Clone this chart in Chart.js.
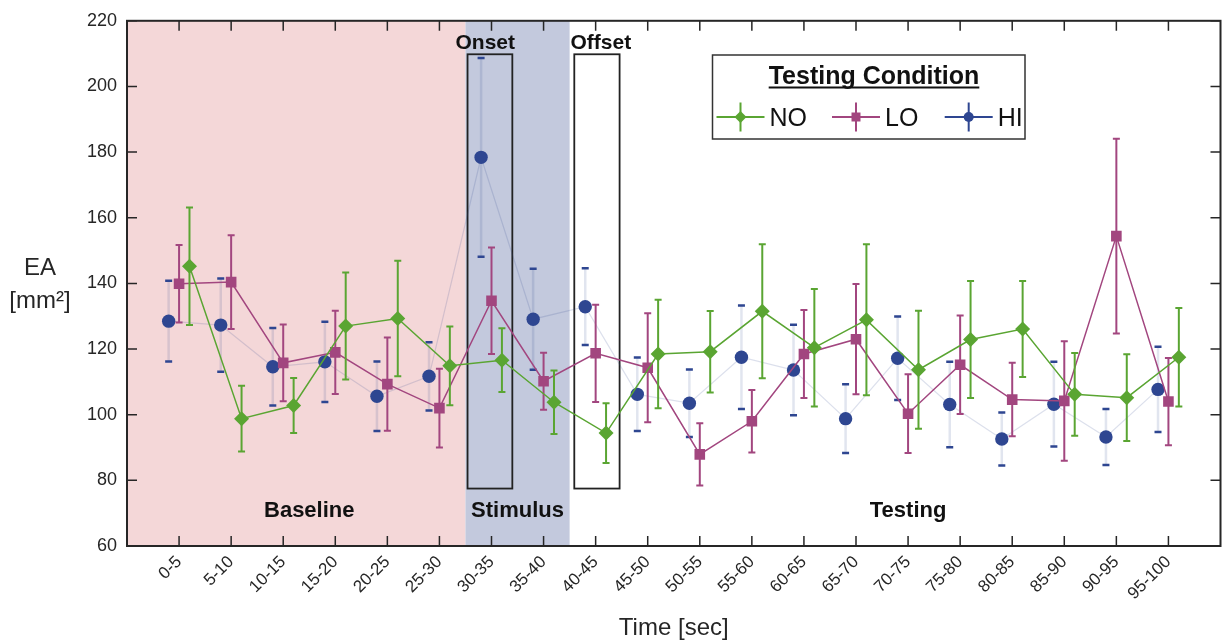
<!DOCTYPE html>
<html>
<head>
<meta charset="utf-8">
<script src="https://cdn.jsdelivr.net/npm/chart.js@4.4.1/dist/chart.umd.min.js"></script>
<style>
  html, body { margin: 0; padding: 0; background: #fff; }
  #chart-container { width: 1228px; height: 641px; }
</style>
</head>
<body>
<div id="chart-container"><canvas id="my-chart"></canvas></div>
<script>
// x categories (5 sec bins)
var timeBins = ['0-5', '5-10', '10-15', '15-20', '20-25', '25-30', '30-35', '35-40', '40-45', '45-50',
                '50-55', '55-60', '60-65', '65-70', '70-75', '75-80', '80-85', '85-90', '90-95', '95-100'];

// means and error half-widths, EA in mm^2
var noMean = [145.2, 98.8, 102.8, 127.0, 129.3, 114.9, 116.6, 103.8, 94.4, 118.5,
              119.2, 131.5, 120.4, 128.9, 113.7, 122.9, 126.1, 106.2, 105.2, 117.5];
var noErr  = [17.9, 10.0, 8.4, 16.3, 17.6, 12.0, 9.7, 9.7, 9.1, 16.5,
              12.4, 20.4, 17.9, 23.0, 18.0, 17.8, 14.6, 12.6, 13.2, 15.0];
var loMean = [139.9, 140.4, 115.8, 119.0, 109.3, 102.0, 134.7, 110.2, 118.7, 114.3,
              87.9, 98.0, 118.5, 123.0, 100.3, 115.2, 104.6, 104.2, 154.4, 104.0];
var loErr  = [11.8, 14.3, 11.7, 12.7, 14.2, 12.0, 16.2, 8.7, 14.8, 16.6,
              9.5, 9.5, 13.4, 16.8, 12.0, 15.0, 11.2, 18.2, 29.7, 13.3];
var hiMean = [128.5, 127.3, 114.6, 116.1, 105.6, 111.7, 178.4, 129.1, 132.9, 106.2,
              103.5, 117.5, 113.6, 98.8, 117.2, 103.1, 92.6, 103.2, 93.2, 107.7];
var hiErr  = [12.3, 14.2, 11.8, 12.2, 10.6, 10.4, 30.3, 15.4, 11.7, 11.2,
              10.3, 15.8, 13.8, 10.5, 12.7, 13.0, 8.1, 12.9, 8.5, 13.0];

var yTicks = [60, 80, 100, 120, 140, 160, 180, 200, 220];

var FONT = '"Liberation Sans", Arial, Helvetica, sans-serif';
var green = '#5aa532', magenta = '#a2467f', navy = '#2e4691';
var ink = '#262626';

// put each series at its category position, nudged sideways like the original
function toPoints(means, shift) {
    return means.map(function (v, i) { return {x: i + 1 + shift, y: v}; });
}

// error bars, drawn just under each dataset so the stacking matches
var errorBars = {
    id: 'errorBars',
    beforeDatasetDraw: function (chart, args) {
        var ds = chart.data.datasets[args.index];
        if (!ds.errors) return;
        var ctx = chart.ctx, yS = chart.scales.y;
        ctx.save();
        args.meta.data.forEach(function (pt, i) {
            var v = ds.data[i].y, e = ds.errors[i];
            var top = yS.getPixelForValue(v + e), bot = yS.getPixelForValue(v - e);
            ctx.strokeStyle = ds.stemColor;
            ctx.lineWidth = ds.stemWidth;
            ctx.beginPath();
            ctx.moveTo(pt.x, top);
            ctx.lineTo(pt.x, bot);
            ctx.stroke();
            ctx.strokeStyle = ds.capColor;
            ctx.lineWidth = ds.capWidth;
            ctx.beginPath();
            ctx.moveTo(pt.x - 3.5, top); ctx.lineTo(pt.x + 3.5, top);
            ctx.moveTo(pt.x - 3.5, bot); ctx.lineTo(pt.x + 3.5, bot);
            ctx.stroke();
        });
        ctx.restore();
    }
};

// shaded phases, onset/offset boxes and phase names
var phases = {
    id: 'phases',
    beforeDatasetsDraw: function (chart) {
        var ctx = chart.ctx, a = chart.chartArea, xS = chart.scales.x, yS = chart.scales.y;
        ctx.save();
        var p65 = xS.getPixelForValue(6.5), p85 = xS.getPixelForValue(8.5);
        ctx.fillStyle = '#f4d7d8';
        ctx.fillRect(a.left, a.top, p65 - a.left, a.bottom - a.top);
        ctx.fillStyle = '#c3c9dd';
        ctx.fillRect(p65, a.top, p85 - p65, a.bottom - a.top);

        ctx.strokeStyle = '#222';
        ctx.lineWidth = 1.8;
        [[6.54, 7.40], [8.59, 9.46]].forEach(function (b) {
            var x0 = xS.getPixelForValue(b[0]), x1 = xS.getPixelForValue(b[1]);
            var y0 = yS.getPixelForValue(209.8), y1 = yS.getPixelForValue(77.5);
            ctx.strokeRect(x0, y0, x1 - x0, y1 - y0);
        });

        ctx.fillStyle = '#111';
        ctx.textAlign = 'center';
        ctx.textBaseline = 'alphabetic';
        ctx.font = 'bold 21px ' + FONT;
        ctx.fillText('Onset', xS.getPixelForValue(6.88), a.top + 28.5);
        ctx.fillText('Offset', xS.getPixelForValue(9.1), a.top + 28.5);
        ctx.font = 'bold 22px ' + FONT;
        var yb = a.bottom - 29;
        ctx.fillText('Baseline', xS.getPixelForValue(3.5), yb);
        ctx.fillText('Stimulus', xS.getPixelForValue(7.5), yb);
        ctx.fillText('Testing', xS.getPixelForValue(15), yb);
        ctx.restore();
    }
};

// box, inward ticks, axis titles and the legend
var frame = {
    id: 'frame',
    afterDraw: function (chart) {
        var ctx = chart.ctx, a = chart.chartArea, xS = chart.scales.x, yS = chart.scales.y;
        ctx.save();
        ctx.strokeStyle = ink;
        ctx.lineWidth = 1.5;
        ctx.beginPath();
        timeBins.forEach(function (b, i) {
            var px = xS.getPixelForValue(i + 1);
            ctx.moveTo(px, a.bottom); ctx.lineTo(px, a.bottom - 10);
            ctx.moveTo(px, a.top); ctx.lineTo(px, a.top + 10);
        });
        yTicks.forEach(function (t) {
            var py = yS.getPixelForValue(t);
            ctx.moveTo(a.left, py); ctx.lineTo(a.left + 10, py);
            ctx.moveTo(a.right, py); ctx.lineTo(a.right - 10, py);
        });
        ctx.stroke();
        ctx.lineWidth = 2;
        ctx.strokeRect(a.left, a.top, a.right - a.left, a.bottom - a.top);

        // axis titles
        ctx.fillStyle = ink;
        ctx.textAlign = 'center';
        ctx.textBaseline = 'alphabetic';
        ctx.font = '24px ' + FONT;
        ctx.fillText('EA', 40, 275);
        ctx.fillText('[mm\u00b2]', 40, 308);
        ctx.fillText('Time [sec]', (a.left + a.right) / 2, 635);

        // legend
        ctx.fillStyle = '#fff';
        ctx.fillRect(712.5, 55, 312.5, 84);
        ctx.strokeStyle = '#333';
        ctx.lineWidth = 1.5;
        ctx.strokeRect(712.5, 55, 312.5, 84);
        ctx.fillStyle = '#111';
        ctx.font = 'bold 25px ' + FONT;
        ctx.fillText('Testing Condition', 874, 84);
        var tw = ctx.measureText('Testing Condition').width;
        ctx.fillRect(874 - tw / 2, 86.5, tw, 2);

        var items = [['NO', green, 740.5, 'diamond'], ['LO', magenta, 856, 'square'], ['HI', navy, 968.7, 'circle']];
        items.forEach(function (it) {
            var cx = it[2], cy = 117;
            ctx.strokeStyle = it[1];
            ctx.lineWidth = 2;
            ctx.beginPath();
            ctx.moveTo(cx - 24, cy); ctx.lineTo(cx + 24, cy);
            ctx.moveTo(cx, cy - 14.5); ctx.lineTo(cx, cy + 14.5);
            ctx.stroke();
            ctx.fillStyle = it[1];
            ctx.beginPath();
            if (it[3] == 'diamond') {
                ctx.moveTo(cx, cy - 6); ctx.lineTo(cx + 6, cy); ctx.lineTo(cx, cy + 6); ctx.lineTo(cx - 6, cy);
                ctx.closePath();
            } else if (it[3] == 'square') {
                ctx.rect(cx - 4.5, cy - 4.5, 9, 9);
            } else {
                ctx.arc(cx, cy, 5, 0, Math.PI * 2);
            }
            ctx.fill();
            ctx.fillStyle = '#111';
            ctx.textAlign = 'left';
            ctx.font = '25px ' + FONT;
            ctx.fillText(it[0], cx + 29, 125.5);
        });
        ctx.restore();
    }
};

var ctx = document.getElementById('my-chart').getContext('2d');
var chart = new Chart(ctx, {
    type: 'line',
    data: {
        datasets: [{
            label: 'NO',
            data: toPoints(noMean, 0.2),
            errors: noErr,
            stemColor: green, stemWidth: 2, capColor: green, capWidth: 2,
            borderColor: green,
            borderWidth: 1.5,
            pointStyle: 'rectRot',
            pointRadius: 7.5,
            pointBackgroundColor: green,
            pointBorderWidth: 0,
            order: 0
        }, {
            label: 'LO',
            data: toPoints(loMean, 0),
            errors: loErr,
            stemColor: magenta, stemWidth: 2, capColor: magenta, capWidth: 2,
            borderColor: magenta,
            borderWidth: 1.5,
            pointStyle: 'rect',
            pointRadius: 7.5,
            pointBackgroundColor: magenta,
            pointBorderWidth: 0,
            order: 1
        }, {
            label: 'HI',
            data: toPoints(hiMean, -0.2),
            errors: hiErr,
            stemColor: 'rgba(46,70,145,0.14)', stemWidth: 2.5, capColor: navy, capWidth: 2.5,
            borderColor: 'rgba(46,70,145,0.17)',
            borderWidth: 1.2,
            pointStyle: 'circle',
            pointRadius: 6.7,
            pointBackgroundColor: navy,
            pointBorderWidth: 0,
            order: 2
        }]
    },
    options: {
        responsive: true,
        maintainAspectRatio: false,
        animation: false,
        layout: { padding: { top: 17, right: 7, left: 0, bottom: 0 } },
        elements: { line: { tension: 0, fill: false } },
        plugins: { legend: { display: false }, tooltip: { enabled: false } },
        scales: {
            x: {
                type: 'linear',
                min: 0,
                max: 21,
                afterBuildTicks: function (s) {
                    s.ticks = timeBins.map(function (b, i) { return {value: i + 1}; });
                },
                afterFit: function (s) { s.height = 95; },
                grid: { display: false, drawTicks: false },
                border: { display: false },
                ticks: {
                    autoSkip: false,
                    minRotation: 45,
                    maxRotation: 45,
                    padding: 6,
                    color: ink,
                    font: { family: FONT, size: 17 },
                    callback: function (v) { return timeBins[v - 1]; }
                }
            },
            y: {
                min: 60,
                max: 220,
                afterBuildTicks: function (s) {
                    s.ticks = yTicks.map(function (t) { return {value: t}; });
                },
                afterFit: function (s) { s.width = 127; },
                grid: { display: false, drawTicks: false },
                border: { display: false },
                ticks: {
                    padding: 10,
                    color: ink,
                    font: { family: FONT, size: 18 }
                }
            }
        }
    },
    plugins: [phases, errorBars, frame]
});
</script>
</body>
</html>
